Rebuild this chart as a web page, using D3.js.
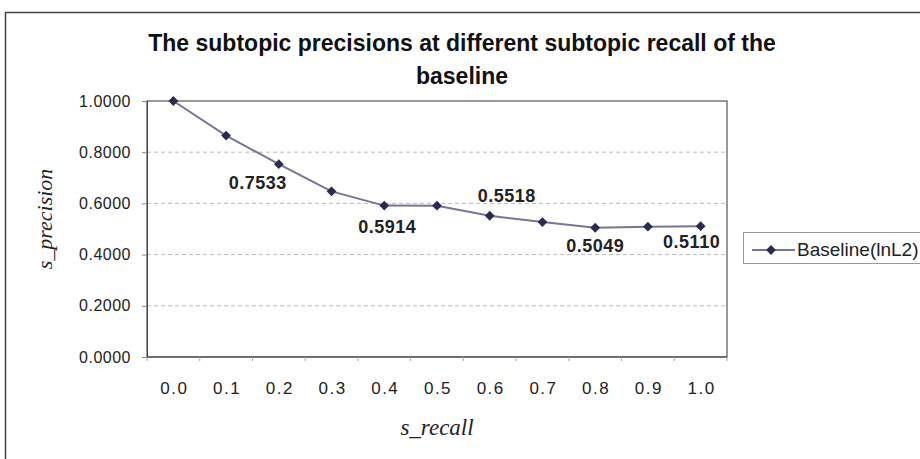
<!DOCTYPE html>
<html>
<head>
<meta charset="utf-8">
<script src="https://cdn.jsdelivr.net/npm/d3@7"></script>
<style>
  body { margin: 0; background: #fff; }
  svg { display: block; }
</style>
</head>
<body>
<div id="chart"></div>
<script>
// Chart data
const recall = ["0.0", "0.1", "0.2", "0.3", "0.4", "0.5", "0.6", "0.7", "0.8", "0.9", "1.0"];
const precision = [1.0000, 0.8650, 0.7533, 0.6470, 0.5914, 0.5910, 0.5518, 0.5270, 0.5049, 0.5090, 0.5110];
const yTicks = [0, 0.2, 0.4, 0.6, 0.8, 1.0];
const labelledPoints = ["0.2", "0.4", "0.6", "0.8", "1.0"];
const seriesName = "Baseline(lnL2)";

// where each value label sits relative to its point (pixels)
const labelOffset = {
  "0.2": [-21, 25], "0.4": [3, 27], "0.6": [17, -14], "0.8": [0, 24], "1.0": [-9, 22]
};

const W = 920, H = 459;
const margin = {top: 101, right: 193, bottom: 102, left: 147};
const width = W - margin.left - margin.right;
const height = H - margin.top - margin.bottom;
const sans = "'Liberation Sans', Arial, sans-serif";
const serif = "'Liberation Serif', 'Times New Roman', serif";

const svg = d3.select("#chart").append("svg")
    .attr("width", W)
    .attr("height", H)
    .style("font-family", sans);

// outer chart frame
svg.append("rect")
    .attr("x", 5.5).attr("y", 12.5)
    .attr("width", W).attr("height", H)
    .attr("fill", "#fff")
    .attr("stroke", "#444")
    .attr("stroke-width", 1.5);

// title
const title = ["The subtopic precisions at different subtopic recall of the", "baseline"];
title.forEach((t, i) => {
  svg.append("text")
      .attr("x", 462).attr("y", 51 + i * 33)
      .attr("text-anchor", "middle")
      .style("font-size", "23px").style("font-weight", "bold")
      .attr("fill", "#111")
      .text(t);
});

const g = svg.append("g")
    .attr("transform", `translate(${margin.left},${margin.top})`);

const x = d3.scaleBand().domain(recall).range([0, width]);
const y = d3.scaleLinear().domain([0, 1]).range([height, 0]);

// gridlines
g.selectAll(".grid")
    .data(yTicks.filter(t => t > 0 && t < 1))
    .enter().append("line")
    .attr("x1", 0).attr("x2", width)
    .attr("y1", d => y(d)).attr("y2", d => y(d))
    .attr("stroke", "#bbb")
    .attr("stroke-dasharray", "4,3");

// plot area border
g.append("rect")
    .attr("width", width).attr("height", height)
    .attr("fill", "none")
    .attr("stroke", "#555")
    .attr("stroke-width", 1.2);

// y axis
const yAxis = g.append("g")
    .call(d3.axisLeft(y).tickValues(yTicks).tickFormat(d3.format(".4f")).tickSize(5).tickPadding(11));
yAxis.select(".domain").attr("stroke", "#444");
yAxis.selectAll(".tick line").attr("stroke", "#888");
yAxis.selectAll("text")
    .style("font-size", "16px")
    .style("letter-spacing", "0.5px")
    .style("font-family", sans)
    .attr("fill", "#222");

// x axis: ticks on band boundaries, labels centred in each band
const xAxis = g.append("g").attr("transform", `translate(0,${height})`);
xAxis.append("line")
    .attr("x1", 0).attr("x2", width)
    .attr("stroke", "#444").attr("stroke-width", 1.2);
xAxis.selectAll(".xtick")
    .data(recall.concat(["end"]))
    .enter().append("line")
    .attr("x1", (d, i) => i * x.bandwidth())
    .attr("x2", (d, i) => i * x.bandwidth())
    .attr("y1", 0).attr("y2", 4)
    .attr("stroke", "#aaa");
xAxis.selectAll(".xlab")
    .data(recall)
    .enter().append("text")
    .attr("x", d => x(d) + x.bandwidth() / 2 + 1)
    .attr("y", 37)
    .attr("text-anchor", "middle")
    .style("font-size", "17px")
    .style("letter-spacing", "1.5px")
    .attr("fill", "#222")
    .text(d => d);

// axis titles
svg.append("text")
    .attr("x", 437).attr("y", 435)
    .attr("text-anchor", "middle")
    .style("font-family", serif)
    .style("font-style", "italic")
    .style("font-size", "23px")
    .attr("fill", "#222")
    .text("s_recall");
svg.append("text")
    .attr("transform", "rotate(-90)")
    .attr("x", -219).attr("y", 52)
    .attr("text-anchor", "middle")
    .style("font-family", serif)
    .style("font-style", "italic")
    .style("font-size", "22px")
    .attr("fill", "#222")
    .text("s_precision");

// series line
const data = recall.map((r, i) => ({r: r, v: precision[i]}));
const cx = d => x(d.r) + x.bandwidth() / 2;

g.append("path")
    .datum(data)
    .attr("fill", "none")
    .attr("stroke", "#75759c")
    .attr("stroke-width", 2)
    .attr("d", d3.line().x(cx).y(d => y(d.v)));

const marker = d3.symbol().type(d3.symbolSquare).size(48);
g.selectAll(".pt")
    .data(data)
    .enter().append("path")
    .attr("transform", d => `translate(${cx(d)},${y(d.v)}) rotate(45)`)
    .attr("d", marker)
    .attr("fill", "#2b2b4f");

// data labels
g.selectAll(".lbl")
    .data(data.filter(d => labelledPoints.includes(d.r)))
    .enter().append("text")
    .attr("x", d => cx(d) + labelOffset[d.r][0])
    .attr("y", d => y(d.v) + labelOffset[d.r][1])
    .attr("text-anchor", "middle")
    .style("font-size", "18px").style("font-weight", "bold")
    .style("letter-spacing", "0.5px")
    .attr("fill", "#222")
    .text(d => d3.format(".4f")(d.v));

// legend
const legend = svg.append("g").attr("transform", "translate(743,232)");
legend.append("rect")
    .attr("x", 0.5).attr("y", 0.5)
    .attr("width", 200).attr("height", 31)
    .attr("fill", "#fff")
    .attr("stroke", "#999");
legend.append("line")
    .attr("x1", 9).attr("x2", 52)
    .attr("y1", 18).attr("y2", 18)
    .attr("stroke", "#75759c").attr("stroke-width", 2);
legend.append("path")
    .attr("transform", "translate(28,18) rotate(45)")
    .attr("d", marker)
    .attr("fill", "#2b2b4f");
legend.append("text")
    .attr("x", 54).attr("y", 24)
    .style("font-size", "19px")
    .attr("fill", "#222")
    .text(seriesName);
</script>
</body>
</html>
